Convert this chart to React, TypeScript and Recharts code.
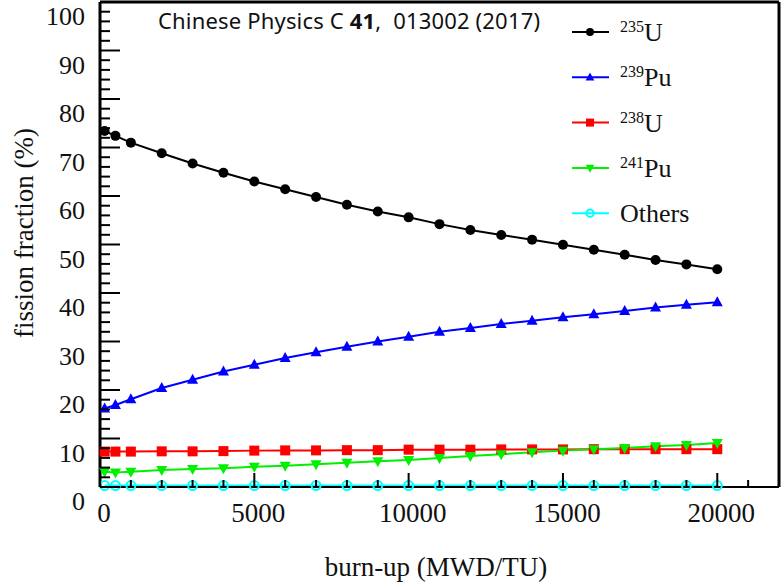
import React from 'react';
import { LineChart, Line, XAxis, YAxis, ReferenceLine } from 'recharts';

// burn-up points (MWD/TU)
const burnup = [150, 500, 1000, 2000, 3000, 4000, 5000, 6000, 7000, 8000, 9000, 10000, 11000, 12000, 13000, 14000, 15000, 16000, 17000, 18000, 19000, 20000];

// fission fractions (%)
const u235 = [73.4, 72.4, 71.0, 68.8, 66.7, 64.8, 63.0, 61.4, 59.8, 58.2, 56.8, 55.6, 54.2, 53.0, 51.95, 51.0, 49.95, 48.9, 47.9, 46.8, 45.9, 44.9];
const pu239 = [16.2, 16.9, 18.1, 20.4, 22.1, 23.8, 25.2, 26.6, 27.8, 28.9, 30.0, 31.0, 32.0, 32.8, 33.6, 34.3, 35.0, 35.6, 36.3, 37.0, 37.6, 38.1];
const u238 = [7.3, 7.3, 7.3, 7.35, 7.35, 7.4, 7.5, 7.55, 7.55, 7.6, 7.6, 7.7, 7.7, 7.7, 7.75, 7.75, 7.75, 7.8, 7.8, 7.8, 7.8, 7.8];
const pu241 = [3.15, 3.0, 3.15, 3.5, 3.7, 3.85, 4.2, 4.4, 4.7, 5.0, 5.3, 5.57, 6.0, 6.4, 6.75, 7.15, 7.5, 7.8, 8.05, 8.4, 8.65, 9.05];
const others = [0.3, 0.3, 0.3, 0.3, 0.3, 0.3, 0.3, 0.3, 0.3, 0.3, 0.3, 0.3, 0.3, 0.3, 0.3, 0.3, 0.3, 0.3, 0.3, 0.3, 0.3, 0.3];

const xMajor = [0, 5000, 10000, 15000, 20000];
const yTicks = Array.from({ length: 51 }, (_, i) => i * 2);
const xTicks = Array.from({ length: 23 }, (_, i) => i * 1000);

const data = burnup.map((b, i) => ({
  burnup: b,
  u235: u235[i],
  pu239: pu239[i],
  u238: u238[i],
  pu241: pu241[i],
  others: others[i],
}));

const serif = '"Liberation Serif", "Times New Roman", serif';

const series = [
  { key: 'u235', color: '#000000', mark: 'circle', sup: '235', name: 'U' },
  { key: 'pu239', color: '#0000ff', mark: 'up', sup: '239', name: 'Pu' },
  { key: 'u238', color: '#ff0000', mark: 'square', sup: '238', name: 'U' },
  { key: 'pu241', color: '#00f000', mark: 'down', sup: '241', name: 'Pu' },
  { key: 'others', color: '#00ffff', mark: 'hollow', sup: '', name: 'Others' },
];

const Marker = ({ cx, cy, mark, color, s = 1 }: any) => {
  if (mark === 'circle') return <circle cx={cx} cy={cy} r={5 * s} fill={color} />;
  if (mark === 'hollow') return <circle cx={cx} cy={cy} r={4.5 * s} fill="none" stroke={color} strokeWidth={2} />;
  if (mark === 'square') return <rect x={cx - 5 * s} y={cy - 5 * s} width={10 * s} height={10 * s} fill={color} />;
  if (mark === 'up')
    return <polygon points={`${cx},${cy - 6 * s} ${cx - 5.5 * s},${cy + 4 * s} ${cx + 5.5 * s},${cy + 4 * s}`} fill={color} />;
  return <polygon points={`${cx},${cy + 6 * s} ${cx - 5.5 * s},${cy - 4 * s} ${cx + 5.5 * s},${cy - 4 * s}`} fill={color} />;
};

const makeDot = (mark: string, color: string) => (p: any) => (
  <Marker key={`${mark}-${p.index}`} cx={p.cx} cy={p.cy} mark={mark} color={color} />
);

const YTick = (props: any) => {
  const { x, y, payload } = props;
  const v = payload.value;
  const major = v % 10 === 0;
  return (
    <g>
      <line x1={x} x2={x + (major ? 20 : 10)} y1={y} y2={y} stroke="#000" strokeWidth={2} />
      {major && (
        <text x={85} y={y + 23} textAnchor="end" fontSize={26} fontFamily={serif} fill="#111">
          {v}
        </text>
      )}
    </g>
  );
};

const XTick = (props: any) => {
  const { x, y, payload } = props;
  const v = payload.value;
  const major = xMajor.includes(v);
  return (
    <g>
      <line x1={x} x2={x} y1={y} y2={y - (major ? 14 : 7)} stroke="#000" strokeWidth={2} />
      {major && (
        <text x={x + 4} y={y + 35} textAnchor="middle" fontSize={27} fontFamily={serif} fill="#111">
          {v}
        </text>
      )}
    </g>
  );
};

export default function App() {
  return (
    <div style={{ position: 'absolute', left: 0, top: 0, width: 781, height: 587, background: '#fff' }}>
      <LineChart width={781} height={587} data={data} margin={{ top: 2, right: 2, left: 0, bottom: 0 }}>
        <XAxis
          dataKey="burnup"
          type="number"
          domain={[0, 22000]}
          ticks={xTicks}
          interval={0}
          height={100}
          tickSize={0}
          tickMargin={0}
          tickLine={false}
          tick={<XTick />}
          axisLine={{ stroke: '#000', strokeWidth: 2 }}
        />
        <YAxis
          type="number"
          domain={[0, 100]}
          ticks={yTicks}
          interval={0}
          width={100}
          tickSize={0}
          tickMargin={0}
          tickLine={false}
          tick={<YTick />}
          axisLine={{ stroke: '#000', strokeWidth: 3 }}
        />
        <ReferenceLine y={100} stroke="#000" strokeWidth={3} />
        <ReferenceLine x={22000} stroke="#000" strokeWidth={3} />
        {series.map((s) => (
          <Line
            key={s.key}
            dataKey={s.key}
            stroke={s.color}
            strokeWidth={2}
            type="linear"
            dot={makeDot(s.mark, s.color)}
            activeDot={false}
            isAnimationActive={false}
          />
        ))}
      </LineChart>
      <svg width={781} height={587} style={{ position: 'absolute', left: 0, top: 0, pointerEvents: 'none' }}>
        <text x={158} y={29} fontSize={22} fontFamily='"Noto Sans", sans-serif' fill="#111" textLength={382} lengthAdjust="spacing">
          Chinese Physics C <tspan fontWeight="bold">41</tspan>,{'\u00a0'} 013002 (2017)
        </text>
        {series.map((s, i) => {
          const y = 32 + i * 45.3;
          return (
            <g key={s.key}>
              <line x1={572} x2={609} y1={y} y2={y} stroke={s.color} strokeWidth={2} />
              <Marker cx={590} cy={y} mark={s.mark} color={s.color} s={0.8} />
              <text x={620} y={y + 9} fontSize={26} fontFamily={serif} fill="#111">
                {s.sup && (
                  <tspan fontSize={16} dy={-9}>
                    {s.sup}
                  </tspan>
                )}
                <tspan dy={s.sup ? 9 : 0}>{s.name}</tspan>
              </text>
            </g>
          );
        })}
        <text
          x={24}
          y={233}
          transform="rotate(-90 24 233)"
          textAnchor="middle"
          dominantBaseline="central"
          fontSize={27}
          fontFamily={serif}
          fill="#111"
        >
          fission fraction (%)
        </text>
        <text x={436} y={576} textAnchor="middle" fontSize={27} fontFamily={serif} fill="#111">
          burn-up (MWD/TU)
        </text>
      </svg>
    </div>
  );
}
